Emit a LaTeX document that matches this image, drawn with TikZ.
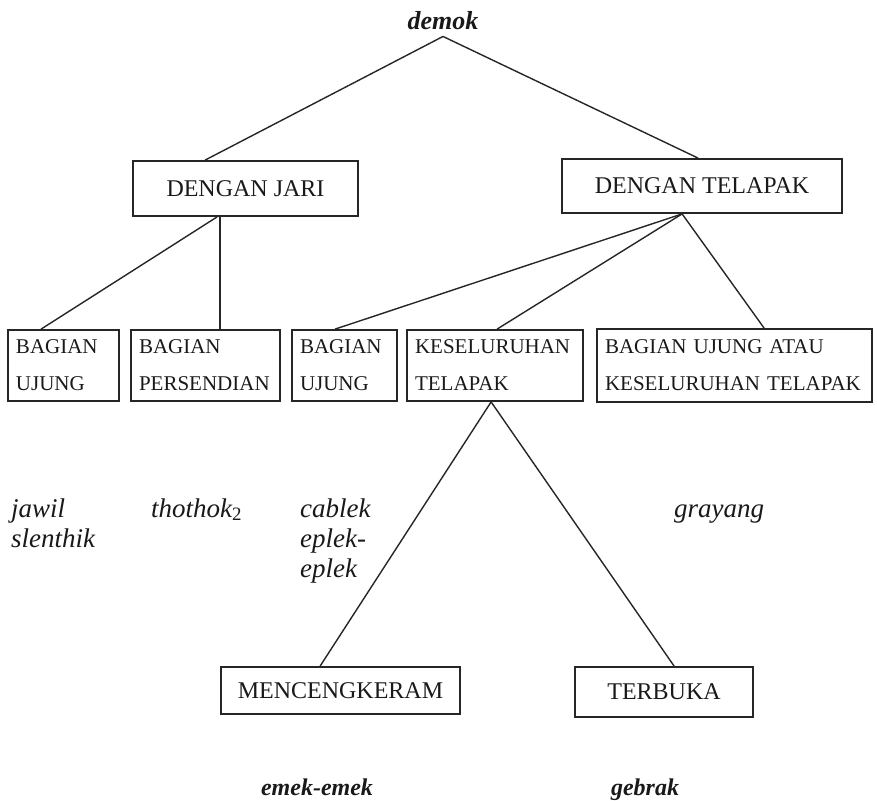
\documentclass[tikz,border=0pt]{standalone}
\usepackage{fontspec}
\setmainfont{Liberation Serif}
\usetikzlibrary{shapes,arrows}

\tikzset{
  box/.style={draw=black!85,line width=1.8pt,text=black!90,inner sep=0pt,align=center,font=\fontsize{24}{28}\selectfont},
  part/.style={draw=black!85,line width=1.8pt,text=black!90,inner xsep=8pt,inner ysep=0pt,align=left,minimum height=71pt,font=\fontsize{21}{37}\selectfont},
  word/.style={text=black!90,inner sep=0pt,align=left,font=\fontsize{27}{30}\selectfont\itshape},
  link/.style={draw=black!85,line width=1.4pt}
}

\begin{document}
\begin{tikzpicture}[x=1pt,y=-1pt]
\useasboundingbox (0,0) rectangle (877,800);

\node[word,font=\fontsize{26}{30}\selectfont\bfseries\itshape,anchor=base] (demok) at (443,30) {demok};
\node[box,minimum width=225pt,minimum height=55pt] (jari) at (245.5,188.5) {DENGAN JARI};
\node[box,minimum width=280pt,minimum height=54pt] (telapak) at (702,186) {DENGAN TELAPAK};

\node[part,text width=95pt] (ujung1) at (63.5,365.5) {BAGIAN\\UJUNG};
\node[part,text width=133pt] (sendi) at (205.5,365.5) {BAGIAN\\PERSENDIAN};
\node[part,text width=89pt] (ujung2) at (344.5,365.5) {BAGIAN\\UJUNG};
\node[part,text width=160pt] (seluruh) at (495,365.5) {KESELURUHAN\\TELAPAK};
\node[part,text width=259pt,minimum height=73pt] (atau) at (734.5,365.5) {BAGIAN UJUNG ATAU\\KESELURUHAN TELAPAK};

\node[box,minimum width=239pt,minimum height=47pt] (cengkeram) at (340.5,690.5) {MENCENGKERAM};
\node[box,minimum width=178pt,minimum height=50pt] (buka) at (664,692) {TERBUKA};

% kata-kata
\node[word,anchor=base west] (jawil) at (11,547) {jawil\\slenthik};
\node[word,anchor=base west] (thothok) at (151,517) {thothok\textsubscript{\upshape 2}};
\node[word,anchor=base west] (cablek) at (300,577) {cablek\\eplek-\\eplek};
\node[word,anchor=base] (grayang) at (719,517) {grayang};
\node[word,font=\fontsize{24}{28}\selectfont\bfseries\itshape,anchor=base] (emek) at (317,795) {emek-emek};
\node[word,font=\fontsize{24}{28}\selectfont\bfseries\itshape,anchor=base] (gebrak) at (645,795) {gebrak};

\draw[link] ([yshift=-6pt]demok.south) -- ([xshift=73pt]jari.north west);
\draw[link] ([yshift=-6pt]demok.south) -- ([xshift=137pt]telapak.north west);
\draw[link] ([xshift=85pt]jari.south west) -- ([xshift=34pt]ujung1.north west);
\draw[link] ([xshift=88pt]jari.south west) -- ([xshift=90pt]sendi.north west);
\draw[link] ([xshift=121pt]telapak.south west) -- ([xshift=44pt]ujung2.north west);
\draw[link] ([xshift=121pt]telapak.south west) -- ([xshift=91pt]seluruh.north west);
\draw[link] ([xshift=121pt]telapak.south west) -- ([xshift=168pt]atau.north west);
\draw[link] ([xshift=85pt]seluruh.south west) -- ([xshift=100pt]cengkeram.north west);
\draw[link] ([xshift=85pt]seluruh.south west) -- ([xshift=100pt]buka.north west);

\end{tikzpicture}
\end{document}
